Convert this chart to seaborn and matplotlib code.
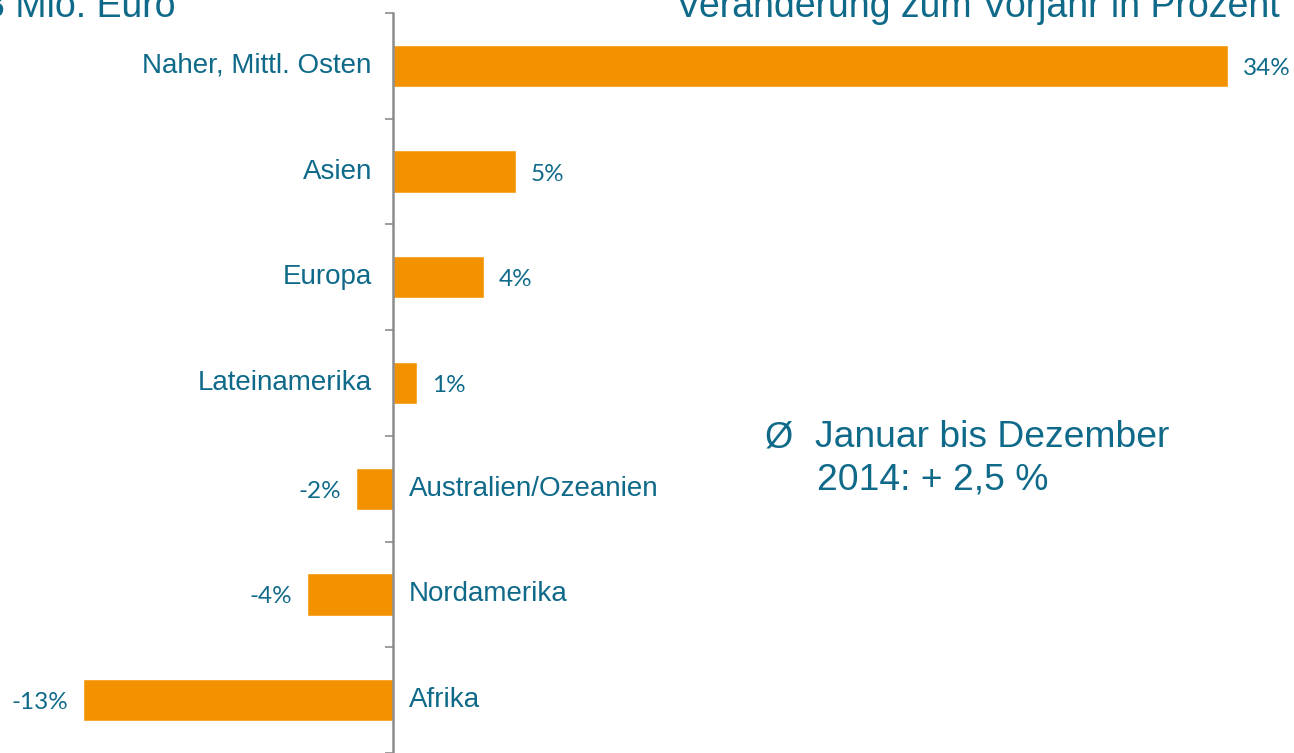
import numpy as np
import pandas as pd
import seaborn as sns
import matplotlib.pyplot as plt

# Regionen und Veränderung zum Vorjahr (Prozent)
regions = ["Naher, Mittl. Osten", "Asien", "Europa", "Lateinamerika",
           "Australien/Ozeanien", "Nordamerika", "Afrika"]
change = [34.0, 5.0, 3.7, 1.0, -1.5, -3.5, -12.6]
value_labels = ["34%", "5%", "4%", "1%", "-2%", "-4%", "-13%"]

orange = "#F39200"
teal = "#0F6A8A"
grey = "#8C8C8C"

df = pd.DataFrame({"region": regions, "change": change})

sns.set_theme(style="white")
plt.rcParams['font.family'] = ['Liberation Sans', 'DejaVu Sans']

fig = plt.figure(figsize=(12.94, 7.53), dpi=100)
ax = fig.add_axes([0, 0, 1, 740 / 753])

sns.barplot(data=df, x="change", y="region", color=orange, width=0.4,
            saturation=1, orient="h", ax=ax)

ax.set_xlim(-16.0, 36.7)
ax.set_ylim(740 / 106.3 - 0.5, -0.5)

# only a vertical zero line with small ticks between categories
for s in ["top", "right", "bottom"]:
    ax.spines[s].set_visible(False)
ax.spines["left"].set_position(("data", 0))
ax.spines["left"].set_color(grey)
ax.spines["left"].set_linewidth(1.8)
ax.set_xticks([])
ax.set_yticks([])
ax.set_yticks(np.arange(-0.5, 7, 1), minor=True)
ax.tick_params(axis="y", which="minor", left=True, length=6, width=1.2,
               color=grey, direction="out", labelleft=False)
ax.set_xlabel("")
ax.set_ylabel("")

for i, (name, v, lab) in enumerate(zip(regions, change, value_labels)):
    if v >= 0:
        ax.annotate(name, (0, i), xytext=(-21, -7), textcoords="offset pixels",
                    ha="right", va="baseline", fontsize=20, color=teal)
        ax.annotate(lab, (v, i), xytext=(15, -9), textcoords="offset pixels",
                    ha="left", va="baseline", fontsize=17.5, color=teal,
                    family=["Lato", "DejaVu Sans"])
    else:
        ax.annotate(name, (0, i), xytext=(16, -7), textcoords="offset pixels",
                    ha="left", va="baseline", fontsize=20, color=teal)
        ax.annotate(lab, (v, i), xytext=(-15, -9), textcoords="offset pixels",
                    ha="right", va="baseline", fontsize=17.5, color=teal,
                    family=["Lato", "DejaVu Sans"])

# header texts, cut at the top edge as in the original slide
fig.text(-0.012, 1 - 17 / 753, "3 Mio. Euro", ha="left", va="baseline",
         fontsize=27, color=teal)
fig.text(1280 / 1294, 1 - 17 / 753, "Veränderung zum Vorjahr in Prozent",
         ha="right", va="baseline", fontsize=27, color=teal)

fig.text(765 / 1294, 1 - 447 / 753, "Ø", ha="left", va="baseline",
         fontsize=26, color=teal)
fig.text(815 / 1294, 1 - 447 / 753, "Januar bis Dezember", ha="left",
         va="baseline", fontsize=26.8, color=teal)
fig.text(817 / 1294, 1 - 490 / 753, "2014: + 2,5 %", ha="left",
         va="baseline", fontsize=26.8, color=teal)

fig.savefig("out.png", dpi=100)
